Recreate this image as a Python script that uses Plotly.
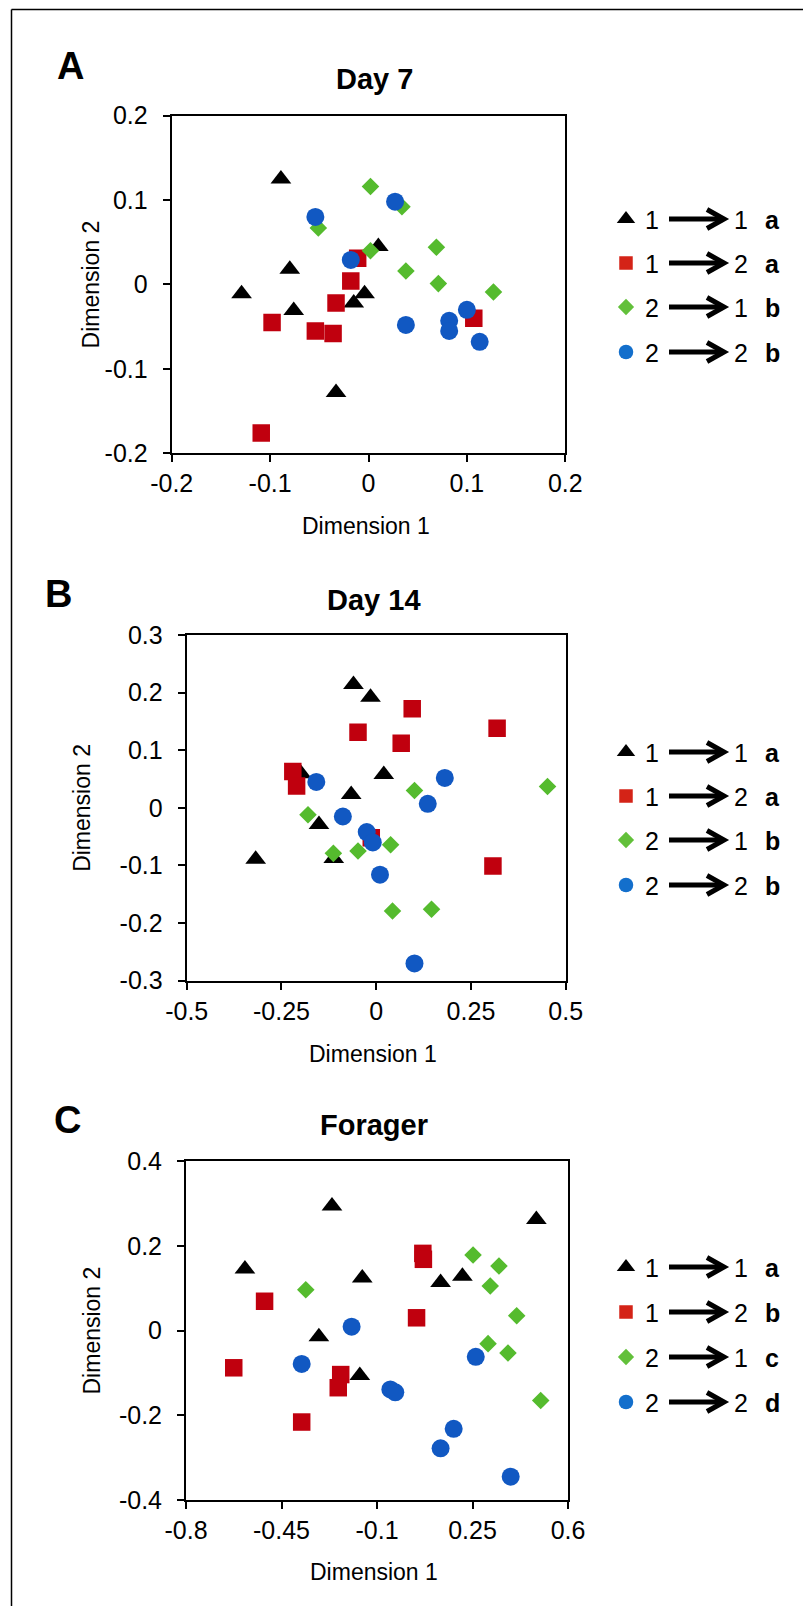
import plotly.graph_objects as go

# page is 811x1614; the browser body keeps an 8px margin, so the figure is sized to fit
PAGE_W, PAGE_H = 811, 1614
OFF = 8
W, H = PAGE_W - OFF, PAGE_H - 2 * OFF

# ---------------- data ----------------
# Panel A : Day 7
d7_tri_x = [-0.089, -0.080, -0.129, -0.076, -0.004, -0.015, 0.010, -0.033]
d7_tri_y = [0.125, 0.018, -0.011, -0.031, -0.011, -0.022, 0.045, -0.128]
d7_sq_x = [-0.011, -0.018, -0.033, -0.098, -0.054, -0.036, 0.107, -0.109]
d7_sq_y = [0.031, 0.004, -0.022, -0.045, -0.055, -0.058, -0.040, -0.176]
d7_dia_x = [0.002, 0.034, -0.051, 0.002, 0.069, 0.038, 0.071, 0.127]
d7_dia_y = [0.116, 0.092, 0.067, 0.040, 0.044, 0.016, 0.001, -0.009]
d7_cir_x = [-0.054, 0.027, -0.018, 0.038, 0.082, 0.082, 0.100, 0.113]
d7_cir_y = [0.080, 0.098, 0.029, -0.048, -0.043, -0.055, -0.030, -0.068]

# Panel B : Day 14
d14_tri_x = [-0.060, -0.015, -0.198, 0.020, -0.066, -0.151, -0.318, -0.112]
d14_tri_y = [0.214, 0.192, 0.059, 0.058, 0.023, -0.029, -0.089, -0.088]
d14_sq_x = [0.095, -0.048, 0.066, 0.319, -0.220, -0.210, -0.013, 0.308]
d14_sq_y = [0.172, 0.131, 0.112, 0.138, 0.063, 0.038, -0.052, -0.101]
d14_dia_x = [0.452, 0.101, -0.180, -0.113, -0.048, 0.038, 0.043, 0.146]
d14_dia_y = [0.037, 0.030, -0.012, -0.079, -0.075, -0.064, -0.179, -0.176]
d14_cir_x = [0.181, -0.158, 0.136, -0.088, -0.025, -0.009, 0.010, 0.101]
d14_cir_y = [0.052, 0.045, 0.007, -0.015, -0.042, -0.060, -0.116, -0.270]

# Panel C : Forager
fo_tri_x = [-0.265, 0.484, -0.584, -0.154, 0.133, 0.213, -0.313, -0.163]
fo_tri_y = [0.294, 0.262, 0.145, 0.124, 0.113, 0.128, -0.015, -0.106]
fo_sq_x = [0.068, 0.070, -0.512, 0.045, -0.625, -0.233, -0.242, -0.376]
fo_sq_y = [0.182, 0.168, 0.069, 0.030, -0.088, -0.104, -0.135, -0.216]
fo_dia_x = [0.252, 0.347, 0.315, -0.361, 0.412, 0.307, 0.380, 0.500]
fo_dia_y = [0.178, 0.152, 0.105, 0.096, 0.035, -0.031, -0.053, -0.165]
fo_cir_x = [-0.193, -0.376, -0.051, -0.033, 0.262, 0.181, 0.133, 0.390]
fo_cir_y = [0.009, -0.079, -0.139, -0.146, -0.062, -0.232, -0.278, -0.345]

panel_letters = ["A", "B", "C"]
panel_titles = ["Day 7", "Day 14", "Forager"]
x_title = "Dimension 1"
y_title = "Dimension 2"

A_xticks = [-0.2, -0.1, 0, 0.1, 0.2]
A_xtext = ["-0.2", "-0.1", "0", "0.1", "0.2"]
A_yticks = [-0.2, -0.1, 0, 0.1, 0.2]
A_ytext = ["-0.2", "-0.1", "0", "0.1", "0.2"]
B_xticks = [-0.5, -0.25, 0, 0.25, 0.5]
B_xtext = ["-0.5", "-0.25", "0", "0.25", "0.5"]
B_yticks = [-0.3, -0.2, -0.1, 0, 0.1, 0.2, 0.3]
B_ytext = ["-0.3", "-0.2", "-0.1", "0", "0.1", "0.2", "0.3"]
C_xticks = [-0.8, -0.45, -0.1, 0.25, 0.6]
C_xtext = ["-0.8", "-0.45", "-0.1", "0.25", "0.6"]
C_yticks = [-0.4, -0.2, 0, 0.2, 0.4]
C_ytext = ["-0.4", "-0.2", "0", "0.2", "0.4"]

legend_from = ["1", "1", "2", "2"]
legend_to = ["1", "2", "1", "2"]
legend_groups = [["a", "a", "b", "b"], ["a", "a", "b", "b"], ["a", "b", "c", "d"]]

# ---------------- styles ----------------
FONT = "Liberation Sans, Arial, sans-serif"
col_tri, col_sq, col_dia, col_cir = "#000000", "#C0000E", "#55BB2E", "#1158C2"
leg_cols = ["#000000", "#D42317", "#62C03A", "#136FCC"]
symbols = ["triangle-up", "square", "diamond", "circle"]
sizes = [18, 17.5, 13.5, 18]
leg_sizes = [16, 13.5, 12.5, 14.5]

# page-pixel layout of panels (left, right, top, bottom)
boxes = [(171.7, 565.3, 115.6, 453.3),
         (186.7, 565.7, 635.0, 980.7),
         (186.0, 568.0, 1161.0, 1500.0)]
letter_pos = [(71, 64), (58, 592), (67, 1118)]
title_cy = [76, 597, 1122]
xtitle_cy = [524, 1052, 1570]
ytitle_cx = [93, 84, 93]
legend_rows = [[219, 263, 307, 352], [752, 796, 840, 885], [1267, 1312, 1357, 1402]]

def px(x):
    return (x - OFF) / W

def py(y):
    return 1 - (y - OFF) / H

fig = go.Figure()

datasets = [
    [(d7_tri_x, d7_tri_y), (d7_sq_x, d7_sq_y), (d7_dia_x, d7_dia_y), (d7_cir_x, d7_cir_y)],
    [(d14_tri_x, d14_tri_y), (d14_sq_x, d14_sq_y), (d14_dia_x, d14_dia_y), (d14_cir_x, d14_cir_y)],
    [(fo_tri_x, fo_tri_y), (fo_sq_x, fo_sq_y), (fo_dia_x, fo_dia_y), (fo_cir_x, fo_cir_y)],
]
cols = [col_tri, col_sq, col_dia, col_cir]
ticks = [(A_xticks, A_xtext, A_yticks, A_ytext, [-0.2, 0.2], [-0.2, 0.2]),
         (B_xticks, B_xtext, B_yticks, B_ytext, [-0.5, 0.5], [-0.3, 0.3]),
         (C_xticks, C_xtext, C_yticks, C_ytext, [-0.8, 0.6], [-0.4, 0.4])]

layout_axes = {}
for i, groups in enumerate(datasets):
    n = "" if i == 0 else str(i + 1)
    for g, (xs, ys) in enumerate(groups):
        fig.add_trace(go.Scatter(
            x=xs, y=ys, mode="markers", xaxis="x" + n, yaxis="y" + n,
            marker=dict(symbol=symbols[g], size=sizes[g], color=cols[g], line=dict(width=0)),
            showlegend=False, hoverinfo="skip"))
    l, r, t, b = boxes[i]
    xt, xtt, yt, ytt, xr, yr = ticks[i]
    common = dict(showline=True, linewidth=2, linecolor="black", mirror=True,
                  ticks="outside", ticklen=7, tickwidth=2, tickcolor="black",
                  showgrid=False, zeroline=False, automargin=False,
                  tickfont=dict(family=FONT, size=25, color="black"))
    layout_axes["xaxis" + n] = dict(domain=[px(l), px(r)], range=xr, tickvals=xt, ticktext=xtt,
                                    anchor="y" + n, ticklabelstandoff=0, **common)
    layout_axes["yaxis" + n] = dict(domain=[py(b), py(t)], range=yr, tickvals=yt, ticktext=ytt,
                                    anchor="x" + n, ticklabelstandoff=10, **common)

# overlay page-pixel axis for the custom legends and frame
layout_axes["xaxis4"] = dict(domain=[0, 1], range=[OFF, OFF + W], visible=False, fixedrange=True,
                             anchor="y4", automargin=False)
layout_axes["yaxis4"] = dict(domain=[0, 1], range=[OFF + H, OFF], visible=False, fixedrange=True,
                             anchor="x4", automargin=False)

mk_x = 626
num1_x, num2_x, let_x = 652, 741, 772
shapes = []
annotations = []
for i in range(3):
    rows = legend_rows[i]
    for g in range(4):
        fig.add_trace(go.Scatter(
            x=[mk_x], y=[rows[g]], mode="markers", xaxis="x4", yaxis="y4",
            marker=dict(symbol=symbols[g], size=leg_sizes[g], color=leg_cols[g], line=dict(width=0)),
            showlegend=False, hoverinfo="skip"))
        yy = rows[g]
        shapes.append(dict(type="line", xref="x4", yref="y4", x0=669, x1=721, y0=yy, y1=yy,
                           line=dict(color="black", width=5)))
        shapes.append(dict(type="path", xref="x4", yref="y4",
                           path=f"M 707,{yy-9.5} L 724,{yy} L 707,{yy+9.5}",
                           line=dict(color="black", width=5)))
        for txt, xx, bold in [(legend_from[g], num1_x, False), (legend_to[g], num2_x, False),
                              (legend_groups[i][g], let_x, True)]:
            annotations.append(dict(xref="paper", yref="paper", x=px(xx), y=py(yy + 1),
                                    text=f"<b>{txt}</b>" if bold else txt, showarrow=False,
                                    xanchor="center", yanchor="middle",
                                    font=dict(family=FONT, size=25, color="black")))
    l, r, t, b = boxes[i]
    lx, ly = letter_pos[i]
    annotations.append(dict(xref="paper", yref="paper", x=px(lx), y=py(ly + 2),
                            text=f"<b>{panel_letters[i]}</b>", showarrow=False,
                            xanchor="center", yanchor="middle",
                            font=dict(family=FONT, size=38, color="black")))
    annotations.append(dict(xref="paper", yref="paper", x=px(374), y=py(title_cy[i] + 3),
                            text=f"<b>{panel_titles[i]}</b>", showarrow=False,
                            xanchor="center", yanchor="middle",
                            font=dict(family=FONT, size=29, color="black")))
    annotations.append(dict(xref="paper", yref="paper", x=px((l + r) / 2 - 3), y=py(xtitle_cy[i] + 2),
                            text=x_title, showarrow=False, xanchor="center", yanchor="middle",
                            font=dict(family=FONT, size=23, color="black")))
    annotations.append(dict(xref="paper", yref="paper", x=px(ytitle_cx[i] - 2), y=py((t + b) / 2),
                            text=y_title, showarrow=False, xanchor="center", yanchor="middle",
                            textangle=-90, font=dict(family=FONT, size=23, color="black")))

# outer frame (top and left edges visible)
shapes.append(dict(type="line", xref="x4", yref="y4", x0=11.5, x1=OFF + W, y0=9.5, y1=9.5,
                   line=dict(color="black", width=1.5)))
shapes.append(dict(type="line", xref="x4", yref="y4", x0=11.5, x1=11.5, y0=9.5, y1=OFF + H,
                   line=dict(color="black", width=1.5)))

fig.update_layout(width=W, height=H, margin=dict(l=0, r=0, t=0, b=0, autoexpand=False),
                  paper_bgcolor="white", plot_bgcolor="rgba(0,0,0,0)",
                  shapes=shapes, annotations=annotations, **layout_axes)

fig.write_html("out.html")
